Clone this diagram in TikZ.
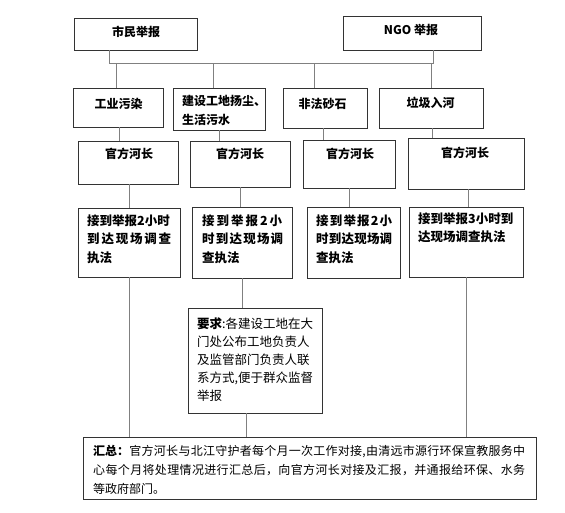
\documentclass[tikz,border=0pt]{standalone}
\usepackage{fontspec}
\setmainfont{Noto Sans CJK SC}
\usetikzlibrary{fit}
\makeatletter
\def\jlaux#1#2{#1\ifx\relax#2\expandafter\@gobble\else\hfil\expandafter\jlaux\fi{#2}}
\makeatother
\newcommand\jl[2]{\makebox[#1][s]{\jlaux#2\relax}}
\newcommand\jlb[3]{\makebox[#1][s]{#2\hfil\jlaux#3\relax}}
\begin{document}
\begin{tikzpicture}[x=1pt,y=-1pt,
  box/.style={draw=black!80, line width=0.8pt, inner sep=0pt},
  conn/.style={draw=black!50, line width=1pt},
  ct/.style={inner sep=0pt, anchor=base, font=\fontsize{12}{14}\selectfont\bfseries},
  tb/.style={inner sep=0pt, anchor=base west, font=\fontsize{12.5}{18.5}\selectfont\bfseries},
  tr/.style={inner sep=0pt, anchor=base west, font=\fontsize{12.5}{18}\selectfont},
  ts/.style={inner sep=0pt, anchor=base west, font=\fontsize{12}{19}\selectfont}]
\useasboundingbox (0,0) rectangle (565,512);
% boxes
\node[box, fit={(74,18) (197,50)}] (top1) {};
\node[box, fit={(343,16) (481,50)}] (top2) {};
\node[box, fit={(73,88) (163,127)}] (r1a) {};
\node[box, fit={(173,88) (265,130)}] (r1b) {};
\node[box, fit={(283,88) (367,128)}] (r1c) {};
\node[box, fit={(379,88) (483,128)}] (r1d) {};
\node[box, fit={(78,141) (178,184)}] (o1) {};
\node[box, fit={(190,141) (290,187)}] (o2) {};
\node[box, fit={(303,140) (395,188)}] (o3) {};
\node[box, fit={(408,138) (524,189)}] (o4) {};
\node[box, fit={(78,208) (180,277)}] (c1) {};
\node[box, fit={(192,207) (292,278)}] (c2) {};
\node[box, fit={(307,207) (400,278)}] (c3) {};
\node[box, fit={(409,207) (523,277)}] (c4) {};
\node[box, fit={(188,308) (322,413)}] (req) {};
\node[box, fit={(83,437) (536,499)}] (sum) {};
% texts
\node[ct] (top1t) at (136,36.5) {市民举报};
\node[ct] (top2t) at (411,34) {NGO 举报};
\node[ct] (r1at) at (118.5,108) {工业污染};
\node[tb, font=\fontsize{12}{19}\selectfont\bfseries] (r1bt) at (182,105) {\parbox[t]{120pt}{建设工地扬尘、\\生活污水}};
\node[ct] (r1ct) at (322.5,108) {非法砂石};
\node[ct] (r1dt) at (430.5,107) {垃圾入河};
\node[ct] (o1t) at (129,158) {官方河长};
\node[ct] (o2t) at (240,158) {官方河长};
\node[ct] (o3t) at (350,158) {官方河长};
\node[ct] (o4t) at (465,157) {官方河长};
\node[tb] (c1t) at (87,225) {\parbox[t]{120pt}{接到举报2小时\\\jl{84pt}{到达现场调查}\\执法}};
\node[tb] (c2t) at (202,225) {\parbox[t]{120pt}{\jl{80pt}{接到举报2小}\\\jl{81pt}{时到达现场调}\\查执法}};
\node[tb] (c3t) at (316,225) {\parbox[t]{120pt}{\jl{76pt}{接到举报2小}\\\jl{76pt}{时到达现场调}\\查执法}};
\node[tb] (c4t) at (418,223) {\parbox[t]{120pt}{接到举报3小时到\\达现场调查执法}};
\node[tr] (reqt) at (197,328) {\parbox[t]{130pt}{{\bfseries 要求}:各建设工地在大\\门处公布工地负责人\\及监管部门负责人联\\系方式,便于群众监督\\举报}};
\node[ts] (sumt) at (93,455) {\parbox[t]{450pt}{\jlb{432pt}{{\bfseries 汇总：}}{官方河长与北江守护者每个月一次工作对接,由清远市源行环保宣教服务中}\\\jl{432pt}{心每个月将处理情况进行汇总后，向官方河长对接及汇报，并通报给环保、水务}\\等政府部门。}};
% coordinates
\coordinate (busL) at (109,63);
\coordinate (busR) at (434,63);
\coordinate (n2) at (433,63);
\coordinate (d1) at (116,63);
\coordinate (d2) at (213,63);
\coordinate (d3) at (314,63);
\coordinate (d4) at (431,63);
\coordinate (k1) at (119,0);
\coordinate (k2) at (219,0);
\coordinate (k3) at (323,0);
\coordinate (k4) at (432,0);
\coordinate (m1) at (129,0);
\coordinate (m2) at (240,0);
\coordinate (m3) at (349,0);
\coordinate (m4) at (468,0);
\coordinate (e1) at (129,0);
\coordinate (e2) at (242,0);
\coordinate (e3) at (246,0);
\coordinate (e4) at (466,0);
% connectors
\draw[conn] (top1.south -| busL) -- (busL) -- (busR);
\draw[conn] (top2.south -| n2) -- (n2);
\draw[conn] (d1) -- (r1a.north -| d1);
\draw[conn] (d2) -- (r1b.north -| d2);
\draw[conn] (d3) -- (r1c.north -| d3);
\draw[conn] (d4) -- (r1d.north -| d4);
\draw[conn] (r1a.south -| k1) -- (o1.north -| k1);
\draw[conn] (r1b.south -| k2) -- (o2.north -| k2);
\draw[conn] (r1c.south -| k3) -- (o3.north -| k3);
\draw[conn] (r1d.south -| k4) -- (o4.north -| k4);
\draw[conn] (o1.south -| m1) -- (c1.north -| m1);
\draw[conn] (o2.south -| m2) -- (c2.north -| m2);
\draw[conn] (o3.south -| m3) -- (c3.north -| m3);
\draw[conn] (o4.south -| m4) -- (c4.north -| m4);
\draw[conn] (c1.south -| e1) -- (sum.north -| e1);
\draw[conn] (c2.south -| e2) -- (req.north -| e2);
\draw[conn] (req.south -| e3) -- (sum.north -| e3);
\draw[conn] (c4.south -| e4) -- (sum.north -| e4);
\end{tikzpicture}
\end{document}
